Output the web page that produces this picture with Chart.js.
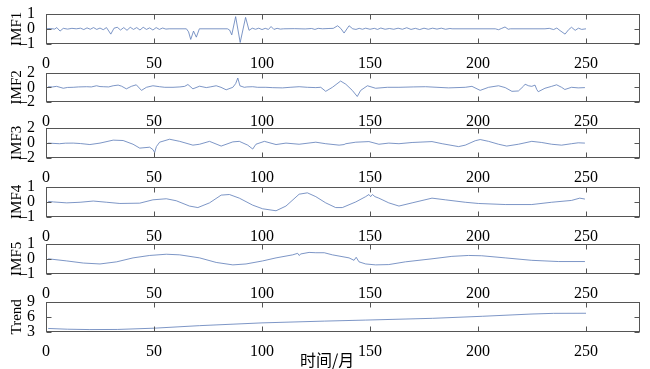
<!DOCTYPE html>
<html>
<head>
<meta charset="utf-8">
<script src="https://cdn.jsdelivr.net/npm/chart.js@4/dist/chart.umd.min.js"></script>
<style>
html,body{margin:0;padding:0;background:#fff;}
#wrap{position:relative;width:650px;height:369px;overflow:hidden;}
canvas{position:absolute;left:0;}
#xt{position:absolute;left:300px;top:347px;font:16px "Noto Sans CJK SC","Liberation Serif",serif;color:#000;white-space:nowrap;}
</style>
</head>
<body>
<div id="wrap">
<canvas id="c1" width="650" height="69"></canvas>
<canvas id="c2" width="650" height="68"></canvas>
<canvas id="c3" width="650" height="69"></canvas>
<canvas id="c4" width="650" height="69"></canvas>
<canvas id="c5" width="650" height="69"></canvas>
<canvas id="c6" width="650" height="69"></canvas>
<div id="xt">时间/月</div>
</div>
<script>
// ---- data (x = month, y = value) ----
const xTicks = [0, 50, 100, 150, 200, 250];
const panelNames = ['IMF1', 'IMF2', 'IMF3', 'IMF4', 'IMF5', 'Trend'];
const yTicks1 = [-1, 0, 1];
const yTicks2 = [-2, 0, 2];
const yTicks3 = [-2, 0, 2];
const yTicks4 = [-1, 0, 1];
const yTicks5 = [-1, 0, 1];
const yTicks6 = [3, 6, 9];

const imf1 = [[0,0],[2,0.02],[4,-0.02],[5,0.08],[6.5,-0.15],[8,0.03],[10,-0.02],[12,0.03],[14,0],[16,0.04],[17.5,-0.05],[19,0.06],[20.5,-0.03],[22,0.08],[23.5,-0.04],[25,0.05],[26.5,-0.06],[28,0.08],[30,-0.35],[31.5,0.04],[33,0.1],[34.5,-0.08],[36,0.08],[37.5,-0.1],[39,0.1],[40.5,-0.04],[42,0.08],[43.5,-0.08],[45,0.1],[46.5,-0.04],[48,0.06],[49.5,-0.08],[51,0.08],[52.5,-0.04],[54,0.05],[55.5,-0.02],[57,0],[65,0],[66,-0.2],[67,-0.7],[68.3,-0.15],[69.6,-0.55],[71,0],[84,0],[85,-0.08],[86,-0.4],[87.8,0.8],[89.9,-0.9],[92.4,0.75],[94,-0.1],[95.5,0.04],[97,-0.03],[98.5,0.04],[100,-0.05],[101.5,0.03],[103,-0.04],[104.2,0.15],[105.5,-0.04],[107,0.03],[108.5,-0.02],[110,0],[115,0.01],[120,-0.01],[123,0.02],[124.5,-0.04],[126,0.03],[128,0],[131,0.02],[133,0.03],[135,0.2],[136.5,0.02],[138,-0.28],[140.3,0.2],[142,0],[143.5,-0.04],[145,0.03],[146.5,-0.03],[148,0.04],[150,-0.03],[152,0.03],[153.5,-0.04],[155,0.05],[157,-0.03],[159,0.02],[161,-0.03],[163,0.04],[165,-0.03],[167,0.07],[169,-0.04],[171,0.03],[173,-0.05],[175,0.04],[177,-0.03],[179,0.04],[181,-0.02],[183,0.04],[185,-0.03],[187,0.02],[188,0],[208,0],[209.5,-0.06],[211,0.03],[212.5,0.12],[214,-0.03],[215,0],[231,0],[233,0.03],[235,-0.05],[236.5,0.05],[238,-0.12],[240.3,-0.35],[242,-0.05],[243.3,0.1],[245,-0.1],[246.5,0.04],[248,-0.04],[250,0]];

const imf2 = [[1,0.08],[3,0.05],[4.9,0.13],[6.5,0],[8,-0.13],[10,-0.02],[12.6,0],[15,0.05],[18.8,0.08],[21,0.05],[23.4,0.21],[25,0.1],[26.5,0.08],[29,0.05],[31.1,0.21],[33.4,0.3],[35,0.15],[37.2,-0.21],[39.5,0.13],[41.8,0.34],[44.2,-0.42],[46.5,0],[49.5,0.21],[52.6,0.08],[55,0],[58.8,0],[62,0.05],[64.2,0.13],[65.7,0.38],[68,-0.21],[71.1,0.15],[74.2,-0.04],[76,0.05],[78.8,0.21],[81,0],[83.4,-0.34],[86.5,0],[87.8,0.5],[88.8,1.26],[89.8,0.2],[91.8,0],[93,0.05],[95.7,0.08],[98,0],[101.8,0],[105,-0.05],[109.5,-0.08],[113,0],[117.2,0.08],[121,0],[124.9,-0.04],[127.2,0],[129.5,-0.55],[132.6,0],[136.4,0.85],[138.8,0.42],[141.8,-0.42],[144.1,-1.25],[145.7,-0.42],[148.8,0.21],[152.6,-0.13],[158,0],[163.4,0],[170,0.05],[175.7,0.08],[181,0],[186.4,-0.08],[194.1,0],[197.2,0.13],[201,-0.42],[204.9,0],[209.5,0.21],[212.6,-0.04],[215.7,-0.55],[218.7,-0.5],[221,0.13],[221.8,0.42],[223.5,0.2],[224.9,0.13],[226.4,0.3],[227.2,-0.3],[227.9,-0.6],[231,-0.13],[234.1,0.13],[236.4,0.34],[238.7,0],[240.2,-0.3],[243.3,0],[246.4,-0.08],[249.5,-0.04]];

const imf3 = [[1,-0.04],[6.2,-0.12],[9,-0.05],[12.6,-0.04],[16,-0.1],[20.3,-0.23],[25,-0.04],[31.1,0.35],[35.7,0.3],[40.3,-0.19],[43.4,-0.7],[48,-0.58],[49.5,-0.89],[50.3,-1.28],[51.1,-0.5],[52.6,0.08],[57.2,0.47],[61.9,0.19],[68,-0.31],[71.1,-0.19],[75.7,0.19],[81.1,-0.43],[86.5,0.12],[89.5,0.19],[93.4,-0.31],[95.7,-0.82],[97.2,-0.19],[101.1,0.19],[106.5,-0.23],[111.1,-0.04],[117.2,-0.19],[124.9,0.08],[129.5,-0.12],[135.7,-0.31],[138,-0.23],[138.8,-0.12],[143.4,0.08],[149.5,0.16],[154.1,-0.19],[158.7,-0.04],[163.4,-0.12],[169.5,0.04],[178.7,0.16],[183.4,-0.12],[191,-0.5],[194.1,-0.31],[198.7,0.27],[201,0.43],[204.9,0.19],[209.5,-0.19],[213.3,-0.43],[218.7,-0.19],[224.9,0.19],[229.5,0.04],[234.1,-0.19],[238.7,-0.31],[243.3,-0.12],[246.4,0],[249.5,-0.04]];

const imf4 = [[1,0.03],[3.5,-0.01],[9.6,-0.07],[15.8,-0.03],[21.9,0.05],[28.1,-0.03],[34.2,-0.11],[43.4,-0.09],[49.5,0.13],[55.7,0.2],[60.3,0.07],[66.4,-0.28],[70.3,-0.38],[75.7,-0.07],[81.1,0.44],[84.9,0.48],[89.5,0.24],[95.7,-0.22],[100.3,-0.46],[106.5,-0.59],[111.1,-0.28],[117.2,0.5],[121,0.59],[124.9,0.34],[129.5,-0.07],[134.1,-0.38],[137.2,-0.38],[143.4,-0.01],[148,0.34],[149.5,0.48],[150.3,0.34],[151.1,0.48],[152.3,0.34],[154.1,0.24],[158.7,-0.07],[163.4,-0.28],[169.5,-0.07],[178.7,0.24],[184.9,0.13],[194.1,-0.03],[200.2,-0.11],[212.6,-0.18],[224.9,-0.18],[234.1,-0.03],[243.3,0.09],[247.1,0.24],[249.5,0.18]];

const imf5 = [[1,0],[9.6,-0.14],[17.3,-0.28],[25,-0.34],[32.7,-0.2],[40.3,0.06],[48,0.22],[55.7,0.3],[61.9,0.26],[71.1,0.06],[78.8,-0.24],[86.5,-0.4],[92.6,-0.34],[100.3,-0.14],[106.5,0.06],[114.2,0.26],[116.5,0.36],[117.2,0.22],[118,0.32],[121.8,0.42],[124.9,0.4],[128.8,0.4],[132.6,0.26],[140.3,0.06],[142.6,-0.1],[143.6,0.1],[144.9,-0.2],[148,-0.34],[152.6,-0.4],[158.7,-0.38],[166.4,-0.2],[178.7,0],[187.9,0.16],[195.6,0.22],[201.7,0.2],[212.6,0.06],[224.9,-0.1],[237.2,-0.18],[249.5,-0.18]];

const trend = [[1,3.7],[10,3.55],[20,3.48],[33,3.5],[50,3.75],[71,4.25],[100,4.8],[129,5.15],[148,5.35],[179,5.7],[202,6.1],[225,6.55],[235,6.68],[250,6.7]];

// ---- layout ----
const panelTops = [11, 70, 125, 184, 241, 299];
const panelHeights = [33, 32, 33, 33, 33, 33];
const series = [imf1, imf2, imf3, imf4, imf5, trend];
const yTickSets = [yTicks1, yTicks2, yTicks3, yTicks4, yTicks5, yTicks6];

const FONT = '"Liberation Serif","Times New Roman",serif';
const LINE = '#5c7bb8';
const PADTOP = 10, XAXH = 26;

const framePlugin = {
  id: 'frame',
  afterDraw(chart) {
    const {ctx, chartArea: a, scales: {x, y}} = chart;
    ctx.save();
    ctx.strokeStyle = '#555';
    ctx.lineWidth = 1;
    const L = Math.round(a.left) + 0.5, R = Math.round(a.right) - 0.5;
    const T = Math.round(a.top) + 0.5, B = Math.round(a.bottom) - 0.5;
    ctx.beginPath();
    x.ticks.forEach(t => {
      const px = Math.round(x.getPixelForValue(t.value)) + 0.5;
      ctx.moveTo(px, T); ctx.lineTo(px, T + 5);
      ctx.moveTo(px, B); ctx.lineTo(px, B - 5);
    });
    y.ticks.forEach(t => {
      const py = Math.round(y.getPixelForValue(t.value)) + 0.5;
      ctx.moveTo(L, py); ctx.lineTo(L + 5, py);
      ctx.moveTo(R, py); ctx.lineTo(R - 5, py);
    });
    ctx.stroke();
    ctx.strokeRect(L, T, R - L, B - T);
    ctx.restore();
  }
};

series.forEach((s, i) => {
  const cv = document.getElementById('c' + (i + 1));
  const h = PADTOP + panelHeights[i] + XAXH;
  cv.height = h;
  cv.style.top = (panelTops[i] - PADTOP) + 'px';
  cv.style.width = '650px';
  cv.style.height = h + 'px';
  const yt = yTickSets[i];
  new Chart(cv, {
    type: 'line',
    data: {
      datasets: [{
        data: s.map(p => ({x: p[0], y: p[1]})),
        borderColor: LINE,
        borderWidth: 0.8,
        pointRadius: 0,
        tension: 0,
        fill: false
      }]
    },
    options: {
      responsive: false,
      animation: false,
      events: [],
      layout: {padding: {top: PADTOP, right: 10, left: 0, bottom: 0}},
      plugins: {legend: {display: false}, tooltip: {enabled: false}},
      scales: {
        x: {
          type: 'linear', min: 0, max: 275,
          afterBuildTicks(sc) { sc.ticks = xTicks.map(v => ({value: v})); },
          afterFit(sc) { sc.height = XAXH; },
          ticks: {font: {family: FONT, size: 16}, color: '#000', padding: 2, maxRotation: 0, autoSkip: false},
          grid: {display: false},
          border: {display: false}
        },
        y: {
          type: 'linear', min: yt[0], max: yt[yt.length - 1],
          afterBuildTicks(sc) { sc.ticks = yt.map(v => ({value: v})); },
          afterFit(sc) { sc.width = 46; },
          ticks: {
            font: {family: FONT, size: 16}, color: '#000', padding: 3, autoSkip: false,
            callback: v => (v < 0 ? '\u2013' + Math.abs(v) : String(v))
          },
          grid: {display: false},
          border: {display: false},
          title: {display: true, text: panelNames[i], color: '#000',
                  font: {family: FONT, size: 15}, padding: {top: 8, bottom: 0}}
        }
      }
    },
    plugins: [framePlugin]
  });
});
</script>
</body>
</html>
